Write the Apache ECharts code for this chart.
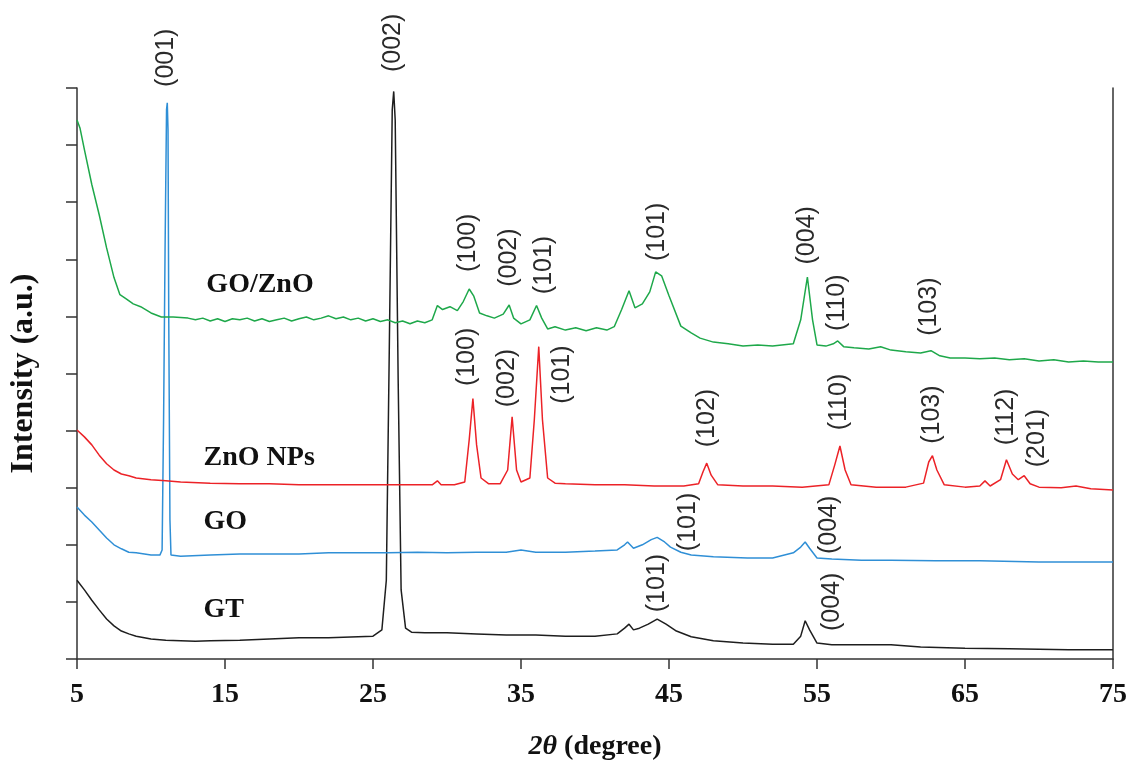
<!DOCTYPE html>
<html>
<head>
<meta charset="utf-8">
<script src="https://cdn.jsdelivr.net/npm/echarts@6/dist/echarts.min.js"></script>
<style>
html,body{margin:0;padding:0;background:#fff;}
#chart{width:1137px;height:761px;}
</style>
</head>
<body>
<div id="chart"></div>
<script>
// ---------- data (2θ in degrees, intensity in arbitrary offset units) ----------
const xTicks = [5, 15, 25, 35, 45, 55, 65, 75];

const gtData = [
  [5.0,1.38],[5.5,1.21],[6.0,1.03],[6.5,0.86],[7.0,0.70],[7.5,0.58],[8.0,0.49],[8.5,0.44],[9.0,0.40],
  [10,0.35],[11,0.33],[12,0.32],[13,0.31],[14,0.32],[16,0.33],[18,0.35],[20,0.37],[22,0.37],[24,0.39],
  [25,0.40],[25.6,0.51],[25.9,1.38],[26.1,5.41],[26.3,9.62],[26.4,9.94],[26.5,9.44],[26.7,4.89],[26.9,1.21],
  [27.2,0.54],[27.6,0.47],[28.5,0.46],[30,0.46],[32,0.44],[34,0.42],[36,0.42],[38,0.40],[40,0.40],
  [41.5,0.44],[42.0,0.54],[42.3,0.61],[42.6,0.51],[43.0,0.54],[43.6,0.61],[44.2,0.70],[44.8,0.61],
  [45.5,0.49],[46.5,0.39],[48,0.32],[50,0.28],[52,0.26],[53.4,0.26],[53.9,0.40],[54.2,0.67],[54.5,0.51],
  [55.0,0.28],[56,0.25],[58,0.25],[60,0.25],[62,0.21],[65,0.19],[68,0.18],[72,0.16],[75,0.16]
];

const goData = [
  [5.0,2.66],[5.5,2.52],[6.0,2.40],[6.5,2.26],[7.0,2.12],[7.5,2.00],[8.0,1.93],[8.5,1.87],[9.0,1.86],
  [10,1.82],[10.6,1.82],[10.75,1.91],[10.85,4.19],[10.95,7.17],[11.05,9.62],[11.1,9.74],[11.15,9.27],
  [11.2,5.94],[11.28,2.44],[11.35,1.82],[12,1.80],[14,1.82],[16,1.84],[18,1.84],[20,1.84],[22,1.86],
  [24,1.86],[26,1.86],[28,1.87],[30,1.86],[32,1.87],[34,1.87],[35,1.91],[36,1.87],[38,1.87],[40,1.89],
  [41.5,1.91],[42.0,2.00],[42.2,2.05],[42.6,1.94],[43.2,2.00],[43.8,2.09],[44.2,2.13],[44.7,2.05],
  [45.1,1.96],[45.8,1.87],[46.5,1.82],[48,1.79],[50.3,1.77],[52,1.77],[53.4,1.86],[53.9,1.96],
  [54.2,2.05],[54.5,1.94],[55.0,1.77],[56,1.75],[58,1.73],[60,1.73],[63,1.72],[66,1.72],[70,1.70],[75,1.70]
];

const znoData = [
  [5.0,4.01],[5.5,3.89],[6.0,3.75],[6.5,3.57],[7.0,3.42],[7.5,3.31],[8.0,3.24],[8.5,3.21],[9,3.17],
  [10,3.14],[11,3.12],[12,3.10],[14,3.08],[16,3.07],[18,3.07],[20,3.05],[22,3.05],[24,3.05],[26,3.05],
  [28,3.05],[29,3.05],[29.35,3.12],[29.6,3.05],[30.5,3.05],[31.2,3.10],[31.5,3.84],[31.75,4.56],
  [32.0,3.75],[32.3,3.17],[32.8,3.07],[33.6,3.07],[34.1,3.31],[34.4,4.24],[34.7,3.31],[35.0,3.10],
  [35.6,3.17],[35.9,4.19],[36.2,5.47],[36.45,4.19],[36.8,3.17],[37.3,3.08],[38,3.07],[40,3.05],
  [42,3.05],[44,3.03],[46,3.03],[47.0,3.07],[47.3,3.28],[47.55,3.43],[47.85,3.22],[48.3,3.05],
  [50,3.03],[52,3.03],[54,3.01],[55.8,3.05],[56.2,3.40],[56.55,3.73],[56.9,3.31],[57.3,3.05],
  [59,3.01],[61,3.01],[62.2,3.08],[62.55,3.45],[62.8,3.56],[63.1,3.31],[63.6,3.05],[65,3.01],
  [66.0,3.03],[66.35,3.12],[66.7,3.03],[67.4,3.14],[67.8,3.49],[68.2,3.24],[68.6,3.14],[69.0,3.21],
  [69.4,3.07],[70,3.01],[71.5,3.00],[72.5,3.03],[73.5,2.98],[75,2.96]
];

const goznoData = [
  [5.0,9.44],[5.2,9.30],[5.5,8.92],[6.0,8.31],[6.5,7.78],[7.0,7.20],[7.5,6.68],[7.9,6.38],[8.3,6.31],
  [8.8,6.22],[9.3,6.17],[10,6.06],[10.7,5.99],[11.5,5.99],[12.5,5.97],[13,5.94],[13.5,5.97],[14,5.92],
  [14.5,5.96],[15,5.91],[15.5,5.96],[16,5.94],[16.5,5.97],[17,5.92],[17.5,5.96],[18,5.91],[18.5,5.94],
  [19,5.97],[19.5,5.92],[20,5.96],[20.5,5.99],[21,5.94],[21.5,5.97],[22,6.01],[22.5,5.96],[23,5.99],
  [23.5,5.94],[24,5.97],[24.5,5.92],[25,5.96],[25.5,5.91],[26,5.94],[26.5,5.89],[27,5.92],[27.5,5.87],
  [28,5.92],[28.5,5.89],[29.0,5.94],[29.35,6.19],[29.7,6.12],[30.2,6.17],[30.7,6.10],[31.1,6.26],
  [31.5,6.48],[31.8,6.36],[32.2,6.06],[32.7,6.01],[33.2,5.97],[33.8,6.04],[34.2,6.20],[34.5,5.97],
  [35.0,5.87],[35.6,5.94],[36.05,6.19],[36.4,5.97],[36.8,5.78],[37.3,5.82],[38,5.76],[38.7,5.80],
  [39.4,5.75],[40.1,5.80],[40.8,5.76],[41.3,5.82],[41.8,6.12],[42.3,6.45],[42.7,6.15],[43.2,6.22],
  [43.7,6.43],[44.1,6.78],[44.5,6.71],[45.0,6.36],[45.8,5.83],[46.5,5.71],[47.1,5.62],[48,5.55],
  [49,5.52],[50,5.48],[51,5.50],[52,5.48],[53.4,5.52],[53.9,5.94],[54.35,6.69],[54.7,5.94],[55.0,5.50],
  [55.6,5.48],[56.1,5.52],[56.4,5.57],[56.8,5.47],[57.5,5.45],[58.5,5.43],[59.3,5.47],[60,5.41],
  [61,5.38],[62,5.36],[62.7,5.40],[63.3,5.31],[64,5.27],[65,5.27],[66,5.26],[67,5.27],[68,5.24],
  [69,5.26],[70,5.22],[71,5.24],[72,5.20],[73,5.22],[74,5.20],[75,5.20]
];

// peak annotations: [text, 2θ, intensity at label centre]
const peakLabels = [
  ['(001)',11.0,10.53],['(002)',26.39,10.79],
  ['(100)',31.46,7.29],['(002)',34.21,7.03],['(101)',36.57,6.90],['(101)',44.23,7.48],
  ['(004)',54.34,7.42],['(110)',56.35,6.24],['(103)',62.59,6.17],
  ['(100)',31.35,5.29],['(002)',34.05,4.92],['(101)',37.79,4.98],['(102)',47.57,4.22],
  ['(110)',56.51,4.50],['(103)',62.79,4.28],['(112)',67.77,4.24],['(201)',69.89,3.87],
  ['(101)',46.3,2.40],['(004)',55.83,2.35],
  ['(101)',44.21,1.33],['(004)',56.0,1.00]
];

// sample names: [text, 2θ at left edge, intensity]
const sampleNames = [
  ['GO/ZnO',13.74,6.55],['ZnO NPs',13.55,3.52],['GO',13.55,2.40],['GT',13.55,0.86]
];

const seriesNames = ['GT','GO','ZnO NPs','GO/ZnO'];
const seriesColors = ['#1e1e1e','#2f8fd6','#ec2227','#1ea84a'];

// ---------- chart ----------
const chart = echarts.init(document.getElementById('chart'), null, {renderer:'canvas'});
const serif = '"Liberation Serif","Times New Roman",serif';
const sans = '"Liberation Sans",Arial,sans-serif';
const axisColor = '#333';

function lineSeries(name, data, color){
  return {
    name, type:'line', data, showSymbol:false, symbol:'none',
    lineStyle:{color, width:1.5}, itemStyle:{color},
    animation:false, silent:true, z:3
  };
}

const option = {
  backgroundColor:'#fff',
  animation:false,
  grid:{left:77, right:24, top:88, bottom:102, containLabel:false, outerBoundsMode:'none'},
  xAxis:{
    type:'value', min:5, max:75,
    name:'{i|2θ} (degree)', nameLocation:'middle', nameGap:74,
    nameTextStyle:{fontFamily:serif, fontWeight:'bold', fontSize:28, color:'#111',
      rich:{i:{fontFamily:serif, fontWeight:'bold', fontStyle:'italic', fontSize:28, color:'#111'}}},
    axisLine:{show:true, onZero:false, lineStyle:{color:axisColor, width:1.5}},
    axisTick:{show:true, inside:false, length:10, customValues:xTicks, lineStyle:{color:axisColor, width:1.5}},
    axisLabel:{show:true, customValues:xTicks, margin:22, fontFamily:serif, fontWeight:'bold', fontSize:28, color:'#111'},
    splitLine:{show:false}
  },
  yAxis:[{
    type:'value', min:0, max:10, interval:1,
    name:'Intensity (a.u.)', nameLocation:'middle', nameGap:37, nameRotate:90,
    nameTextStyle:{fontFamily:serif, fontWeight:'bold', fontSize:32, color:'#111'},
    axisLine:{show:true, onZero:false, lineStyle:{color:axisColor, width:1.5}},
    axisTick:{show:true, inside:false, length:11, lineStyle:{color:axisColor, width:1.5}},
    axisLabel:{show:false},
    splitLine:{show:false}
  },{
    type:'value', min:0, max:10, position:'right',
    axisLine:{show:true, onZero:false, lineStyle:{color:axisColor, width:1.5}},
    axisTick:{show:false}, axisLabel:{show:false}, splitLine:{show:false}
  }],
  series:[
    lineSeries(seriesNames[0], gtData, seriesColors[0]),
    lineSeries(seriesNames[1], goData, seriesColors[1]),
    lineSeries(seriesNames[2], znoData, seriesColors[2]),
    lineSeries(seriesNames[3], goznoData, seriesColors[3]),
    {
      type:'scatter', data:peakLabels.map(p=>[p[1],p[2],p[0]]),
      symbolSize:0, clip:false, silent:true, animation:false, z:5,
      itemStyle:{opacity:1},
      label:{show:true, position:'inside', rotate:90, align:'center', verticalAlign:'middle',
        formatter:p=>p.data[2], fontFamily:sans, fontSize:25, color:'#2a2a2a',
        textBorderWidth:0, textBorderColor:'transparent', textShadowBlur:0}
    },
    {
      type:'scatter', data:sampleNames.map(p=>[p[1],p[2],p[0]]),
      symbolSize:0, clip:false, silent:true, animation:false, z:5,
      itemStyle:{opacity:1},
      label:{show:true, position:[0,0], align:'left', verticalAlign:'middle',
        formatter:p=>p.data[2], fontFamily:serif, fontWeight:'bold', fontSize:28, color:'#111',
        textBorderWidth:0, textBorderColor:'transparent'}
    }
  ]
};
chart.setOption(option);
</script>
</body>
</html>
